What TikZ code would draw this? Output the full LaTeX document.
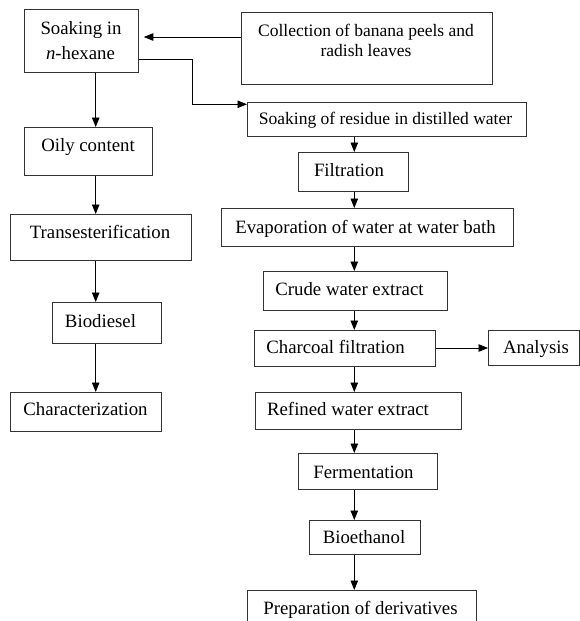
\documentclass[tikz,border=0pt]{standalone}
\usepackage{fontspec}
\setmainfont{Liberation Serif}
\usetikzlibrary{arrows.meta}
\tikzset{
  box/.style={draw=black!80, line width=0.8pt, rectangle, anchor=north west, inner sep=0pt},
  lbl/.style={font=\fontsize{18.8}{22}\selectfont, inner sep=0pt, anchor=base},
  slbl/.style={font=\fontsize{17.5}{21}\selectfont, inner sep=0pt, anchor=base},
  arr/.style={draw=black, line width=0.8pt, -{Triangle[length=9.5pt,width=7.5pt]}}
}
\begin{document}
\begin{tikzpicture}[x=1pt,y=-1pt]
\clip (0,0) rectangle (580,621);
% boxes
\node[box, minimum width=114pt, minimum height=63pt] (hex) at (24,9) {};
\node[box, minimum width=251pt, minimum height=72pt] (col) at (241,12) {};
\node[box, minimum width=279pt, minimum height=34pt] (res) at (247,102) {};
\node[box, minimum width=110pt, minimum height=39pt] (fil) at (298,152) {};
\node[box, minimum width=128pt, minimum height=48pt] (oil) at (24,127) {};
\node[box, minimum width=181pt, minimum height=46pt] (tra) at (10,214) {};
\node[box, minimum width=109pt, minimum height=41pt] (bio) at (52,302) {};
\node[box, minimum width=151pt, minimum height=39pt] (cha) at (10,392) {};
\node[box, minimum width=292pt, minimum height=38pt] (eva) at (221,208) {};
\node[box, minimum width=184pt, minimum height=39pt] (cru) at (263,271) {};
\node[box, minimum width=181pt, minimum height=36pt] (chf) at (254,330) {};
\node[box, minimum width=91pt, minimum height=35pt] (ana) at (488,330) {};
\node[box, minimum width=206pt, minimum height=37pt] (ref) at (255,392) {};
\node[box, minimum width=139pt, minimum height=36pt] (fer) at (298,453) {};
\node[box, minimum width=111pt, minimum height=34pt] (eth) at (309,520) {};
\node[box, minimum width=229pt, minimum height=50pt] (pre) at (247,590) {};
% texts
\node[lbl] (thex1) at (81,34) {Soaking in};
\node[lbl] (thex2) at (80.5,59) {\textit{n}-hexane};
\node[slbl] (tcol1) at (366,36) {Collection of banana peels and};
\node[slbl] (tcol2) at (366,56) {radish leaves};
\node[slbl] (tres) at (385.5,124) {Soaking of residue in distilled water};
\node[lbl] (tfil) at (349,176) {Filtration};
\node[lbl] (toil) at (88,151) {Oily content};
\node[lbl] (ttra) at (100,238) {Transesterification};
\node[lbl] (tbio) at (100.5,327) {Biodiesel};
\node[lbl] (tcha) at (85.5,415) {Characterization};
\node[lbl] (teva) at (365.5,233) {Evaporation of water at water bath};
\node[lbl] (tcru) at (349.5,295) {Crude water extract};
\node[lbl] (tchf) at (335.5,353) {Charcoal filtration};
\node[lbl] (tana) at (536,353) {Analysis};
\node[lbl] (tref) at (348,415) {Refined water extract};
\node[lbl] (tfer) at (363.5,478) {Fermentation};
\node[lbl] (teth) at (364,543) {Bioethanol};
\node[lbl] (tpre) at (360.5,614) {Preparation of derivatives};
% helper coordinates
\coordinate (ay) at (0,37);
\coordinate (by) at (0,59.3);
\coordinate (e1) at (192.7,104.3);
\coordinate (lx) at (95.7,0);
\coordinate (rx) at (354.3,0);
\coordinate (ny) at (0,348);
% connectors
\draw[arr, shorten >=5pt] (col.west |- ay) -- (hex.east |- ay);
\draw[arr] (hex.east |- by) -| (e1) -- (res.west |- e1);
\draw[arr] (hex.south -| lx) -- (oil.north -| lx);
\draw[arr] (oil.south -| lx) -- (tra.north -| lx);
\draw[arr] (tra.south -| lx) -- (bio.north -| lx);
\draw[arr] (bio.south -| lx) -- (cha.north -| lx);
\draw[arr] (res.south -| rx) -- (fil.north -| rx);
\draw[arr] (fil.south -| rx) -- (eva.north -| rx);
\draw[arr] (eva.south -| rx) -- (cru.north -| rx);
\draw[arr] (cru.south -| rx) -- (chf.north -| rx);
\draw[arr] (chf.east |- ny) -- (ana.west |- ny);
\draw[arr] (chf.south -| rx) -- (ref.north -| rx);
\draw[arr] (ref.south -| rx) -- (fer.north -| rx);
\draw[arr] (fer.south -| rx) -- (eth.north -| rx);
\draw[arr] (eth.south -| rx) -- (pre.north -| rx);
\end{tikzpicture}
\end{document}
